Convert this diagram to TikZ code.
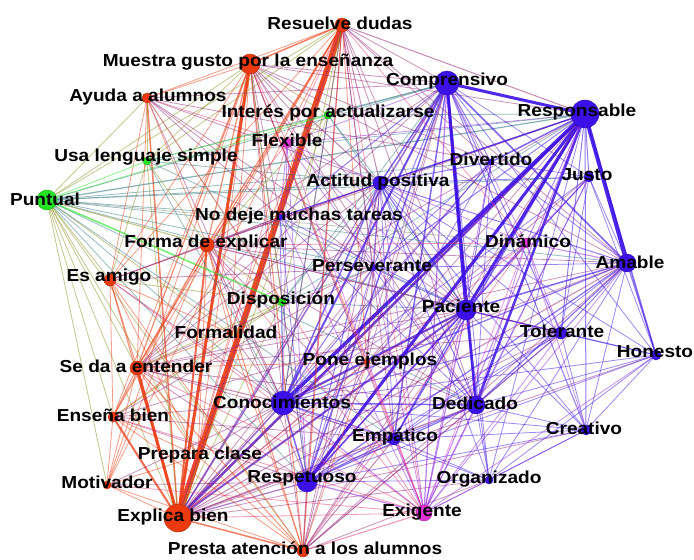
\documentclass[tikz,border=0pt]{standalone}
\usepackage{fontspec}
\newfontfamily\lblfont{Liberation Sans}[FakeStretch=1.1]
\pgfdeclarelayer{paper}
\pgfdeclarelayer{edges}
\pgfdeclarelayer{labels}
\pgfsetlayers{paper,edges,main,labels}
\definecolor{cR}{RGB}{236,58,16}
\definecolor{cG}{RGB}{34,228,34}
\definecolor{cM}{RGB}{226,52,214}
\definecolor{cB}{RGB}{60,16,232}
\tikzset{
  vtx/.style={circle, inner sep=0pt, draw=#1!75!black, line width=0.3pt, fill=#1},
  lbl/.style={font=\lblfont\bfseries\fontsize{13}{15}\selectfont, text=black, inner sep=0pt},
}
% \gnode{id}{x}{y}{radius px}{colour}{label x}{label y}{text}
\newcommand\gnode[8]{%
  \expandafter\xdef\csname nc@#1\endcsname{#5}%
  \pgfmathsetmacro\gdiam{#4*1.5}%
  \node[vtx=#5, minimum size=\gdiam pt] (#1) at (#2,#3) {};
  \begin{pgfonlayer}{labels}
    \node[lbl] (#1-l) at (#6,#7) {#8};
  \end{pgfonlayer}
}
\begin{document}
\begin{tikzpicture}[x=0.75pt,y=-0.75pt]
\begin{pgfonlayer}{paper}
  \fill[white] (0,0) rectangle (694,560);
\end{pgfonlayer}
\useasboundingbox (0,0) rectangle (694,560);

% red group
\gnode{rd}{342}{25}{7}{cR}{340}{23}{Resuelve dudas}
\gnode{mg}{250}{64}{10}{cR}{248}{62}{Muestra gusto por la enseñanza}
\gnode{aa}{147}{98}{5}{cR}{148}{97}{Ayuda a alumnos}
\gnode{fe}{207}{245}{7}{cR}{206}{243}{Forma de explicar}
\gnode{ea}{110}{280}{6}{cR}{109}{277}{Es amigo}
\gnode{se}{137}{368}{7}{cR}{136}{366}{Se da a entender}
\gnode{eb}{113}{417}{5}{cR}{113}{415}{Enseña bien}
\gnode{mo}{107}{485}{4}{cR}{107}{482}{Motivador}
\gnode{xb}{178}{518}{14}{cR}{173}{517}{Explica bien}
\gnode{pa}{303}{551}{6}{cR}{305}{548}{Presta atención a los alumnos}
\gnode{pc}{198}{456}{3}{cR}{200}{455}{Prepara clase}
\gnode{fo}{230}{333}{3}{cR}{226}{332}{Formalidad}
\gnode{pe}{367}{362}{3}{cR}{370}{361}{Pone ejemplos}
% green group
\gnode{pu}{47}{200}{10}{cG}{45}{199}{Puntual}
\gnode{us}{147}{161}{4}{cG}{146}{157}{Usa lenguaje simple}
\gnode{ia}{328}{115}{4}{cG}{328}{113}{Interés por actualizarse}
\gnode{di}{282}{302}{4}{cG}{281}{300}{Disposición}
% magenta group
\gnode{fl}{287}{143}{5}{cM}{287}{140}{Flexible}
\gnode{dn}{526}{243}{5}{cM}{528}{241}{Dinámico}
\gnode{ex}{424}{513}{8}{cM}{422}{512}{Exigente}
% blue group
\gnode{co}{447}{83}{12}{cB}{447}{81}{Comprensivo}
\gnode{re}{585}{114}{14}{cB}{577}{112}{Responsable}
\gnode{dv}{491}{162}{3}{cB}{491}{159}{Divertido}
\gnode{ju}{589}{177}{5}{cB}{587}{175}{Justo}
\gnode{ap}{380}{183}{7}{cB}{378}{182}{Actitud positiva}
\gnode{nd}{280}{217}{3}{cB}{299}{216}{No deje muchas tareas}
\gnode{ps}{373}{268}{3}{cB}{372}{266}{Perseverante}
\gnode{am}{627}{263}{9}{cB}{630}{262}{Amable}
\gnode{pq}{466}{310}{10}{cB}{461}{306}{Paciente}
\gnode{tl}{561}{333}{6}{cB}{562}{331}{Tolerante}
\gnode{ho}{656}{355}{5}{cB}{655}{352}{Honesto}
\gnode{cn}{283}{403}{12}{cB}{282}{402}{Conocimientos}
\gnode{de}{476}{405}{9}{cB}{475}{403}{Dedicado}
\gnode{em}{394}{439}{6}{cB}{395}{437}{Empático}
\gnode{cr}{586}{430}{5}{cB}{584}{428}{Creativo}
\gnode{rs}{307}{482}{10}{cB}{302}{478}{Respetuoso}
\gnode{og}{489}{480}{4}{cB}{489}{479}{Organizado}

% weighted edges; colour is a blend of the end colours, weighted by \m (share of the first end)
\begin{pgfonlayer}{edges}
\foreach \a/\b/\w/\m in {
 xb/rd/6/50, xb/mg/3/50, xb/se/3/50, xb/eb/2/50, xb/fe/2/50, xb/pa/1.5/50, xb/aa/1.5/50, xb/re/2.5/20, xb/cn/1.5/25, xb/pq/2/20,
 xb/rs/1.2/30, xb/co/1.5/25, xb/ap/1/30}{
  \edef\ca{\csname nc@\a\endcsname}\edef\cb{\csname nc@\b\endcsname}%
  \colorlet{ecol}{\ca!\m!\cb}%
  \pgfmathsetmacro\op{min(0.9,0.34+0.2*\w)}%
  \pgfmathsetmacro\lw{\w*0.75}%
  \draw[ecol, line width=\lw pt, opacity=\op] (\a.center) -- (\b.center);
}
\foreach \a/\b/\w in {
 xb/ex/0.8, xb/mo/0.8, xb/pc/1, xb/fo/0.8, xb/ea/1, xb/pu/0.8, xb/us/0.8,
 xb/de/1.2, xb/em/0.8, xb/am/1, xb/tl/0.8, xb/dn/0.8, xb/ps/0.8, xb/di/0.8, xb/pe/0.8, xb/ho/0.8, xb/fl/0.8,
 xb/ia/0.8, xb/og/0.8, xb/dv/0.8, xb/ju/0.8, xb/nd/0.8, xb/cr/0.8,
 re/co/3, re/am/4, re/pq/3, re/cn/3.5, re/rs/3, re/de/2.5, re/ho/1.5, re/ju/1, re/dv/1.5, re/ap/1.5,
 re/em/1.5, re/tl/1, re/cr/1, re/og/0.8, re/ps/1, re/pu/1.2, re/rd/1, re/mg/0.8, re/dn/1, re/ex/1,
 re/fe/0.8, re/se/0.8, re/pa/0.8, re/fl/0.8, re/ia/0.8, re/nd/1, re/di/0.8, re/pe/0.8, re/us/0.8,
 co/pq/3, co/de/2.5, co/cn/2, co/am/1.5, co/ap/1.5, co/rs/1.5, co/em/1.5, co/ex/1.2, co/tl/1, co/dv/1,
 co/ju/0.8, co/ho/0.8, co/cr/1, co/og/0.8, co/ps/1, co/fl/0.8, co/ia/1, co/mg/0.8, co/rd/0.8, co/fe/0.8,
 co/se/0.8, co/pa/0.8, co/us/0.8, co/pu/0.8, co/dn/0.8, co/nd/1, co/di/0.8, co/pe/0.8,
 cn/pq/2, cn/de/1.5, cn/rs/1.5, cn/em/1.2, cn/ap/1.5, cn/am/1.2, cn/tl/1, cn/ps/1, cn/ex/1, cn/og/0.8,
 cn/cr/0.8, cn/ho/0.8, cn/dv/1, cn/ju/0.8, cn/se/1, cn/fe/1, cn/mg/0.8, cn/rd/1, cn/pa/0.8, cn/eb/0.8,
 cn/pu/0.8, cn/di/0.8, cn/fo/0.8, cn/pe/0.8, cn/dn/0.8, cn/nd/0.8, cn/fl/0.8, cn/ia/0.8, cn/us/0.8, cn/aa/0.8,
 cn/mo/0.8, cn/pc/0.8, cn/ea/0.8,
 pq/de/1.5, pq/am/1.5, pq/tl/1.2, pq/em/1.2, pq/rs/1.5, pq/ap/1.2, pq/ex/1.2, pq/ho/1, pq/cr/0.8, pq/og/0.8,
 pq/dv/1, pq/ju/0.8, pq/ps/0.8, pq/dn/0.8, pq/mg/0.8, pq/rd/0.8, pq/fe/0.8, pq/se/0.8, pq/pa/0.8, pq/fl/0.8,
 pq/nd/0.8, pq/pe/0.8, pq/di/0.8, pq/us/0.8, pq/pu/0.8, pq/ia/0.8, pq/aa/0.8, pq/eb/0.8,
 rs/de/1.2, rs/em/1.2, rs/ex/1.2, rs/am/1.2, rs/ap/1, rs/og/0.8, rs/tl/0.8, rs/pa/1.2, rs/mg/0.8, rs/rd/1,
 rs/se/0.8, rs/fe/0.8, rs/ps/0.8, rs/dv/0.8, rs/ju/0.8, rs/ho/0.8, rs/cr/0.8, rs/pe/0.8, rs/fl/0.8, rs/dn/0.8,
 rs/nd/0.8, rs/eb/0.8, rs/di/0.8, rs/pu/0.8, rs/mo/0.8,
 de/am/1.2, de/tl/1, de/em/1, de/ex/1, de/ho/0.8, de/cr/0.8, de/og/0.8, de/ap/1, de/dv/0.8, de/ju/0.8,
 de/ps/0.8, de/mg/0.8, de/rd/0.8, de/fe/0.8, de/se/0.8, de/dn/0.8, de/pa/0.8, de/nd/0.8, de/fl/0.8, de/pe/0.8, de/pu/0.8,
 am/tl/1, am/ho/1.2, am/em/0.8, am/ex/0.8, am/ap/1, am/ju/0.8, am/dv/0.8, am/cr/0.8, am/og/0.8, am/ps/0.8,
 am/mg/0.8, am/rd/0.8, am/fe/0.8, am/se/0.8, am/pa/0.8, am/pu/0.8, am/dn/1, am/pe/0.8,
 mg/rd/1.5, mg/se/1.2, mg/fe/1.2, mg/eb/0.8, mg/ea/0.8, mg/aa/0.8, mg/pa/1, mg/ap/1, mg/fl/0.8, mg/ia/0.8,
 mg/us/0.8, mg/pu/0.8, mg/fo/0.8, mg/pc/0.8, mg/di/0.8, mg/ps/0.8, mg/pe/0.8, mg/ex/0.8, mg/em/0.8, mg/mo/0.8,
 mg/nd/0.8, mg/dv/0.8,
 rd/se/1.2, rd/fe/1.2, rd/eb/0.8, rd/ea/0.8, rd/aa/0.8, rd/pa/1, rd/ap/1, rd/fl/0.8, rd/ia/0.8, rd/us/0.8,
 rd/pu/0.8, rd/ps/0.8, rd/em/0.8, rd/ex/0.8, rd/pc/0.8, rd/fo/0.8, rd/pe/0.8, rd/di/0.8, rd/dv/0.8, rd/dn/0.8,
 rd/mo/0.8, rd/nd/0.8,
 aa/fl/0.8, aa/ap/0.8, aa/ps/0.8, aa/fe/0.8, aa/se/0.8, aa/di/0.8, aa/nd/0.8, aa/dv/0.8, aa/co/0.8, aa/us/0.8,
 aa/ea/0.8, aa/ex/0.8,
 pu/fe/1, pu/ea/0.8, pu/se/0.8, pu/eb/0.8, pu/mo/0.8, pu/us/0.8, pu/ia/0.8, pu/di/1.5, pu/fo/0.8, pu/pc/0.8,
 pu/ap/0.8, pu/ps/0.8, pu/pa/0.8, pu/ju/0.8, pu/dn/0.8, pu/aa/0.8, pu/dv/0.8, pu/em/0.8, pu/nd/0.8,
 fe/se/1, fe/eb/0.8, fe/ea/0.8, fe/pa/1, fe/ap/0.8, fe/ps/0.8, fe/fo/0.8, fe/pc/0.8, fe/di/0.8, fe/nd/0.8,
 fe/ex/0.8, fe/em/0.8, fe/dn/0.8, fe/tl/0.8, fe/mo/0.8, fe/us/0.8, fe/fl/0.8, fe/ia/0.8,
 se/eb/1, se/ea/1, se/pa/1, se/mo/0.8, se/pc/0.8, se/fo/0.8, se/ap/0.8, se/ps/0.8, se/em/0.8, se/ex/0.8,
 se/di/0.8, se/nd/0.8, se/tl/0.8, se/pe/0.8,
 ea/eb/0.8, ea/pa/0.8, ea/pc/0.8, ea/fo/0.8, ea/ap/0.8, ea/ps/0.8, ea/di/0.8, ea/ex/0.8, ea/nd/0.8, ea/us/0.8,
 eb/pa/0.8, eb/mo/0.8, eb/pc/0.8, eb/fo/0.8, eb/ex/0.8, eb/em/0.8, eb/ps/0.8, eb/di/0.8,
 mo/pa/0.8, mo/pc/0.8, mo/ex/0.8,
 pa/ex/1, pa/em/1, pa/og/0.8, pa/ps/0.8, pa/ap/0.8, pa/pc/0.8, pa/fo/0.8, pa/tl/0.8, pa/dn/0.8, pa/pe/0.8,
 ex/em/1, ex/og/0.8, ex/tl/0.8, ex/ap/0.8, ex/ps/0.8, ex/dn/0.8, ex/cr/0.8, ex/ho/0.8, ex/dv/0.8, ex/ju/0.8,
 ex/fl/0.8, ex/pe/0.8, ex/nd/0.8,
 ap/ps/1, ap/dv/1, ap/ju/0.8, ap/em/0.8, ap/tl/0.8, ap/og/0.8, ap/dn/0.8, ap/fl/0.8, ap/nd/1, ap/pe/0.8,
 ap/di/0.8, ap/ia/0.8, ap/us/0.8, ap/ho/0.8, ap/cr/0.8,
 tl/ho/0.8, tl/cr/0.8, tl/dn/0.8, tl/ju/0.8, ho/cr/0.8, em/og/0.8, em/cr/0.8, em/tl/0.8, dv/ju/0.8, dv/ps/0.8,
 fl/ia/0.8, fl/nd/0.8, dn/ju/0.8, ps/pe/0.8, ps/di/0.8, di/fo/0.8, og/cr/0.8, ho/og/0.8, ju/ho/0.8, us/ia/0.8,
 dn/cr/0.8}{
  \edef\ca{\csname nc@\a\endcsname}\edef\cb{\csname nc@\b\endcsname}%
  \colorlet{ecol}{\ca!50!\cb}%
  \pgfmathsetmacro\op{min(0.9,0.34+0.2*\w)}%
  \pgfmathsetmacro\lw{\w*0.75}%
  \draw[ecol, line width=\lw pt, opacity=\op] (\a.center) -- (\b.center);
}
\end{pgfonlayer}
\end{tikzpicture}
\end{document}
